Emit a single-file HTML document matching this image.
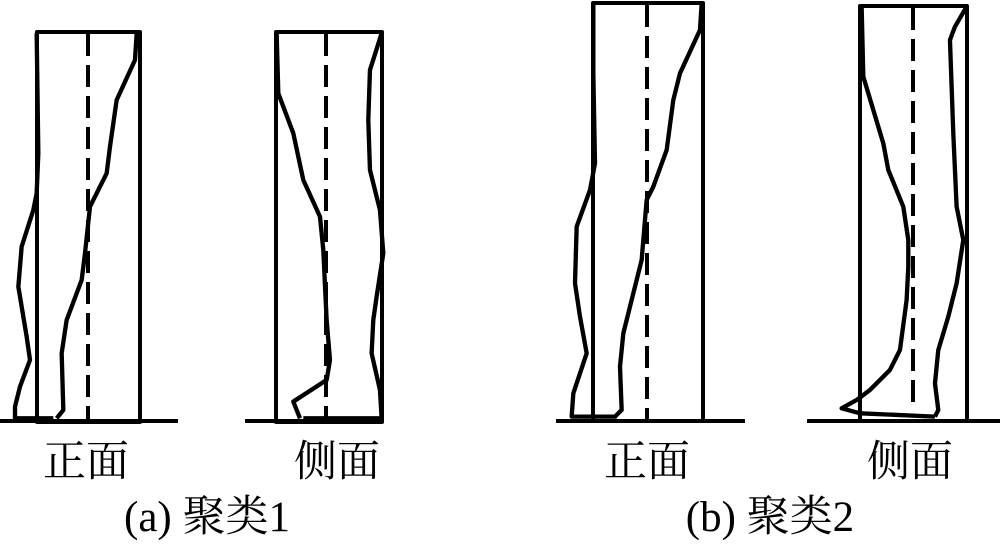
<!DOCTYPE html>
<html><head><meta charset="utf-8"><style>html,body{margin:0;padding:0;background:#fff}svg{display:block}</style></head><body>
<svg width="1000" height="548" viewBox="0 0 1000 548" xmlns="http://www.w3.org/2000/svg">
<g fill="none" stroke="#000" stroke-width="4" stroke-linejoin="round">
<!-- a front -->
<rect x="37" y="32" width="103" height="390" stroke-width="4"/>
<line x1="0" y1="421" x2="178" y2="421"/>
<line x1="88" y1="34" x2="88" y2="420" stroke-width="4" stroke-dasharray="22,9"/>
<polyline transform="translate(0,20) scale(0.3333)" stroke-width="13" points="410,40 405,120 350,240 330,380 320,460 270,560 255,700 245,780 200,900 185,1000 190,1170 170,1195"/>
<polyline transform="translate(0,20) scale(0.3333)" stroke-width="13" points="110,40 115,400 110,520 100,570 65,680 55,800 80,950 90,1020 60,1100 45,1160 45,1195 160,1195"/>
<!-- a side -->
<rect x="276" y="32" width="106" height="390" stroke-width="4"/>
<line x1="245" y1="421" x2="384" y2="421"/>
<line x1="326" y1="34" x2="326" y2="420" stroke-width="4" stroke-dasharray="22,9"/>
<polyline transform="translate(0,20) scale(0.3333)" stroke-width="13" points="830,40 835,220 880,340 910,480 960,590 970,690 980,900 990,1020 980,1080 880,1145 900,1195"/>
<polyline transform="translate(0,20) scale(0.3333)" stroke-width="13" points="1145,40 1110,150 1105,300 1110,450 1140,570 1150,700 1130,830 1120,900 1115,1000 1140,1110 1145,1195 910,1195"/>
<!-- b front -->
<rect x="593" y="3" width="110" height="418" stroke-width="4"/>
<line x1="556" y1="421" x2="745" y2="421"/>
<line x1="647" y1="5" x2="647" y2="420" stroke-width="4" stroke-dasharray="22,9"/>
<polyline transform="translate(540,0) scale(0.3333)" stroke-width="13" points="485,10 480,90 420,220 400,300 380,450 340,560 320,600 310,720 305,780 250,1000 240,1100 245,1230 225,1250"/>
<polyline transform="translate(540,0) scale(0.3333)" stroke-width="13" points="160,10 160,220 165,490 150,570 110,680 105,850 120,950 140,1060 100,1180 95,1250 230,1250"/>
<!-- b side -->
<rect x="860" y="6" width="107" height="415" stroke-width="4"/>
<line x1="807" y1="421" x2="1000" y2="421"/>
<line x1="913" y1="8" x2="913" y2="410" stroke-width="4" stroke-dasharray="22,9"/>
<polyline transform="translate(540,0) scale(0.3333)" stroke-width="13" points="965,20 970,230 1030,430 1045,510 1090,620 1105,720 1105,800 1100,900 1080,1050 1050,1110 990,1170 950,1200 905,1225 960,1240 1185,1250"/>
<polyline transform="translate(540,0) scale(0.3333)" stroke-width="13" points="1280,20 1245,80 1230,120 1240,400 1250,620 1270,720 1250,850 1225,950 1195,1050 1185,1150 1195,1230 1185,1250"/>
</g>
<g font-family="'Liberation Serif','Noto Serif CJK SC',serif" font-size="43" fill="#000" text-anchor="middle">
<text x="86" y="476">正面</text>
<text x="337" y="476">侧面</text>
<text x="647" y="476">正面</text>
<text x="910" y="476">侧面</text>
<text x="207" y="531">(a) 聚类1</text>
<text x="770" y="531">(b) 聚类2</text>
</g>
</svg>
</body></html>
